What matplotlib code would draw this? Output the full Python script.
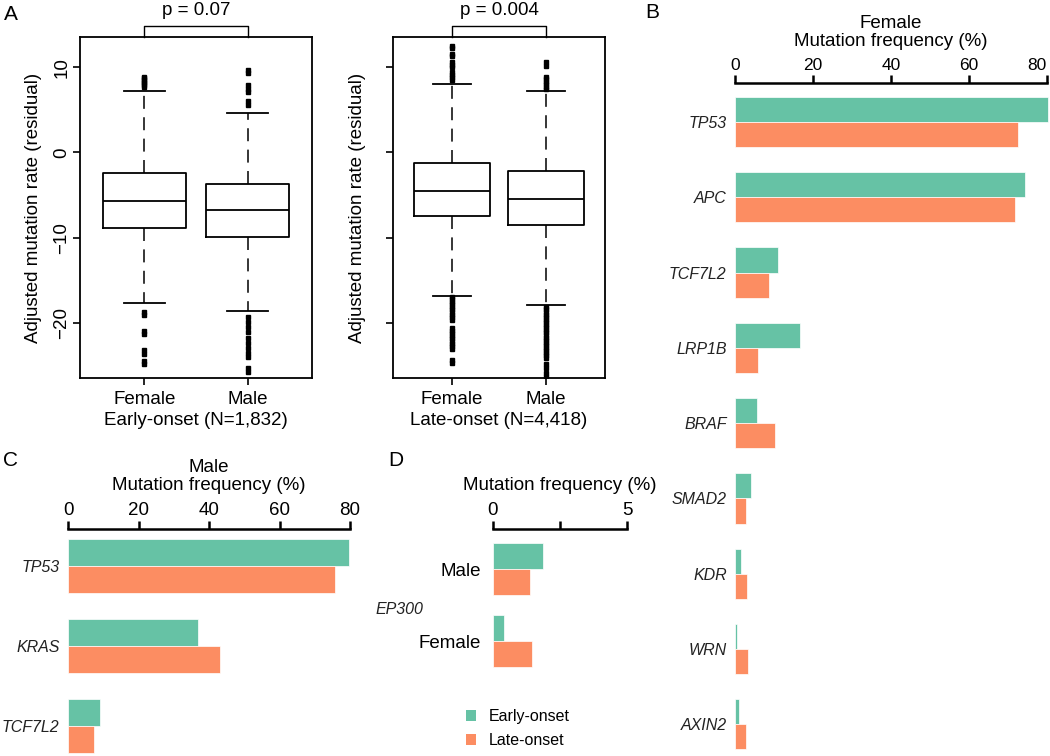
import matplotlib
matplotlib.use("Agg")
import matplotlib.pyplot as plt
from matplotlib.patches import Patch

plt.rcParams['font.family'] = ['Liberation Sans', 'DejaVu Sans']

# ---------------- data ----------------
# Panel A: boxplot statistics (adjusted mutation rate residuals)
box_groups = ["Female", "Male"]
early_med = [-5.65, -6.8]
early_q1 = [-8.8, -9.9]
early_q3 = [-2.35, -3.75]
early_whislo = [-17.6, -18.6]
early_whishi = [7.25, 4.6]
early_fliers_female = [8.9, 8.7, 8.5, 8.3, 8.1, 7.9, 7.7,
                       -18.7, -19.1, -20.9, -21.3, -23.2, -23.6, -24.4, -24.8]
early_fliers_male = [9.7, 9.3, 7.9, 7.5, 7.1, 6.0, 5.6,
                     -19.3, -19.9, -20.5, -21.1, -21.7, -22.3, -22.9, -23.5, -24.0,
                     -25.3, -25.7]
late_med = [-4.5, -5.4]
late_q1 = [-7.45, -8.5]
late_q3 = [-1.25, -2.15]
late_whislo = [-16.8, -17.9]
late_whishi = [8.05, 7.25]
late_fliers_female = [12.5, 12.2, 11.6, 11.3, 10.6, 10.3, 10.0, 9.4, 9.1, 8.8, 8.5,
                      -16.9, -17.2, -17.5, -17.8, -18.1, -18.4, -18.7, -19.0, -19.3, -19.6,
                      -20.6, -20.9, -21.2, -21.5, -21.8, -22.1, -22.4, -22.7, -23.0,
                      -24.3, -24.7]
late_fliers_male = [10.6, 10.1, 8.9, 8.6, 8.3, 8.0, 7.7, 7.4,
                    -18.1, -18.4, -18.7, -19.0, -19.3, -19.6, -19.9, -20.2, -20.5, -20.8,
                    -21.1, -21.4, -21.7, -22.0, -22.3, -22.6, -22.9, -23.2, -23.5, -23.8,
                    -24.1, -24.8, -25.3, -25.8, -26.3]
early_title = "Early-onset (N=1,832)"
late_title = "Late-onset (N=4,418)"
early_p = "p = 0.07"
late_p = "p = 0.004"

# Panel B: female mutation frequency (%)
female_genes = ["TP53", "APC", "TCF7L2", "LRP1B", "BRAF", "SMAD2", "KDR", "WRN", "AXIN2"]
female_early = [80.2, 74.3, 10.9, 16.6, 5.6, 4.0, 1.5, 0.6, 0.9]
female_late = [72.5, 71.9, 8.6, 5.8, 10.3, 2.9, 3.2, 3.3, 2.7]

# Panel C: male mutation frequency (%)
male_genes = ["TP53", "KRAS", "TCF7L2"]
male_early = [79.7, 36.9, 9.1]
male_late = [75.7, 43.1, 7.4]

# Panel D: EP300 mutation frequency (%)
ep300_groups = ["Male", "Female"]
ep300_early = [1.87, 0.41]
ep300_late = [1.37, 1.44]

freq_ticks_80 = [0, 20, 40, 60, 80]
freq_ticks_5 = [0, 2.5, 5]
freq_ticklabels_5 = ["0", "", "5"]
onset_labels = ["Early-onset", "Late-onset"]

GREEN = "#66c2a5"
ORANGE = "#fc8d62"
LABEL_GREY = "#222222"

# ---------------- figure ----------------
W, H = 1050, 756
fig = plt.figure(figsize=(W / 100, H / 100), dpi=100)


def px_axes(x0, y0, x1, y1):
    return fig.add_axes([x0 / W, 1 - y1 / H, (x1 - x0) / W, (y1 - y0) / H])


def make_stats(med, q1, q3, lo, hi, fliers_list):
    stats = []
    for i in range(len(med)):
        stats.append(dict(med=med[i], q1=q1[i], q3=q3[i], whislo=lo[i], whishi=hi[i],
                          fliers=fliers_list[i]))
    return stats


def box_panel(ax, stats, title, ptext, show_ylabels):
    ax.bxp(stats, positions=[1, 2], widths=0.8, capwidths=0.4, showfliers=True,
           boxprops=dict(lw=1.3, color="black"),
           whiskerprops=dict(lw=1.1, color="black", linestyle=(0, (8.5, 5.5))),
           capprops=dict(lw=1.3, color="black"),
           medianprops=dict(lw=1.3, color="black"),
           flierprops=dict(marker="s", markersize=3.0, markerfacecolor="black",
                           markeredgecolor="black", linestyle="none"),
           manage_ticks=False)
    ax.set_xlim(0.375, 2.625)
    ax.set_ylim(-26.44, 13.54)
    for s in ax.spines.values():
        s.set_linewidth(1.3)
    ax.set_xticks([1, 2])
    ax.set_xticklabels(box_groups)
    ax.set_yticks([-20, -10, 0, 10])
    ax.tick_params(axis="both", direction="out", length=5, width=1.2, labelsize=13.5)
    ax.tick_params(axis="x", pad=4)
    if show_ylabels:
        ax.set_yticklabels(["\u221220", "\u221210", "0", "10"], rotation=90, va="center")
        ax.tick_params(axis="y", pad=2)
        ax.set_ylabel("Adjusted mutation rate (residual)", fontsize=13.5, labelpad=8)
    else:
        ax.set_yticklabels([])
        ax.set_ylabel("Adjusted mutation rate (residual)", fontsize=13.5, labelpad=11)
    ax.set_xlabel(title, fontsize=13.5, labelpad=3)
    # significance bracket
    ax.plot([1, 1, 2, 2], [13.54, 14.83, 14.83, 13.54], color="black", lw=1.0,
            clip_on=False)
    ax.text(1.5, 16.6, ptext, ha="center", va="center", fontsize=13.5)


axA1 = px_axes(80, 37, 312, 378)
box_panel(axA1, make_stats(early_med, early_q1, early_q3, early_whislo, early_whishi,
                           [early_fliers_female, early_fliers_male]),
          early_title, early_p, True)
axA2 = px_axes(393, 37, 605, 378)
box_panel(axA2, make_stats(late_med, late_q1, late_q3, late_whislo, late_whishi,
                           [late_fliers_female, late_fliers_male]),
          late_title, late_p, False)


def bar_panel(ax, genes, early, late, height, ticks, ticklabels, xmax, title,
              ticksize, labelsize, gene_italic=True):
    y = list(range(len(genes)))
    ax.barh([v - height / 2 for v in y], early, height=height, color=GREEN,
            edgecolor="white", linewidth=0.5, clip_on=False)
    ax.barh([v + height / 2 for v in y], late, height=height, color=ORANGE,
            edgecolor="white", linewidth=0.5, clip_on=False)
    ax.set_xlim(0, xmax)
    ax.xaxis.tick_top()
    ax.xaxis.set_label_position("top")
    ax.set_xticks(ticks)
    ax.set_xticklabels(ticklabels)
    for k in ["left", "right", "bottom"]:
        ax.spines[k].set_visible(False)
    ax.spines["top"].set_linewidth(1.8)
    ax.tick_params(axis="x", direction="out", length=5.5, width=1.8, labelsize=ticksize, pad=2)
    ax.set_yticks(y)
    ax.set_yticklabels(genes, fontsize=labelsize, color=LABEL_GREY if gene_italic else "black",
                       fontstyle="italic" if gene_italic else "normal")
    ax.tick_params(axis="y", length=0, pad=6)
    if title:
        ax.set_xlabel(title, fontsize=13.5, labelpad=8, linespacing=1.15)


axB = px_axes(735, 83, 1047, 756)
bar_panel(axB, female_genes, female_early, female_late, 1 / 3, freq_ticks_80,
          [str(t) for t in freq_ticks_80], 80, "Female\nMutation frequency (%)", 12.5, 11.5)
axB.set_ylim(8.42, -0.518)
axB.xaxis.label.set_y(1.0)
# keep the last tick label inside the figure, as in the reference
axB.get_xticklabels()[-1].set_horizontalalignment("right")

axC = px_axes(68, 529, 350, 756)
bar_panel(axC, male_genes, male_early, male_late, 1 / 3, freq_ticks_80,
          [str(t) for t in freq_ticks_80], 80, "Male\nMutation frequency (%)", 13.5, 11.5)
axC.set_ylim(2.375, -0.4625)

axD = px_axes(493, 529, 627, 690)
bar_panel(axD, ep300_groups, ep300_early, ep300_late, 0.36, freq_ticks_5,
          freq_ticklabels_5, 5, "Mutation frequency (%)", 13.5, 13.5, gene_italic=False)
axD.set_ylim(1.68, -0.556)
axD.tick_params(axis="y", pad=9)
fig.text(423 / W, 1 - 609 / H, "EP300", ha="right", va="center", fontsize=11.5,
         fontstyle="italic", color=LABEL_GREY)

handles = [Patch(facecolor=GREEN, edgecolor="none"), Patch(facecolor=ORANGE, edgecolor="none")]
fig.legend(handles, onset_labels, loc="upper left", bbox_to_anchor=(466 / W, 1 - 709 / H),
           frameon=False, fontsize=11.5, handlelength=0.65, handleheight=0.65,
           handletextpad=0.8, labelspacing=0.55, borderpad=0, borderaxespad=0)

# panel letters
for letter, (x, y) in zip("ABCD", [(11, 14), (652, 13), (10, 460), (396, 460)]):
    fig.text(x / W, 1 - y / H, letter, ha="center", va="center", fontsize=15)

fig.savefig("out.png", dpi=100)
